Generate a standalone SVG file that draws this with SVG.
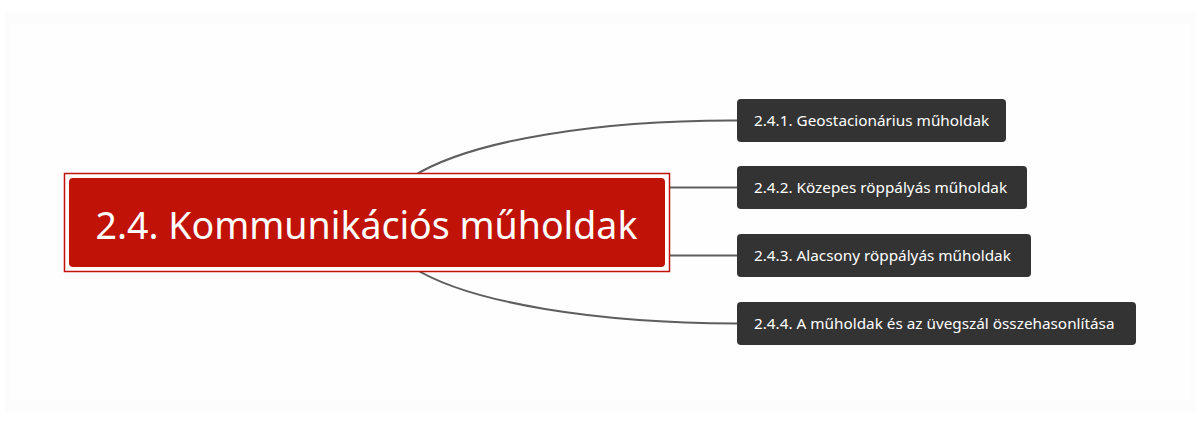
<svg xmlns="http://www.w3.org/2000/svg" width="1202" height="424" viewBox="0 0 1202 424">
<style>
.conn{fill:none;stroke:#5e5e5e;stroke-width:2}
.child rect{fill:#333333}
.child text{fill:#ffffff;font-family:"Noto Sans","Open Sans",sans-serif;font-size:15.3px}
.main text{fill:#ffffff;font-family:"Noto Sans","Open Sans",sans-serif;font-size:37.5px}
</style>
<rect x="0" y="0" width="1202" height="424" fill="#ffffff"/>
<rect x="5" y="12" width="1191" height="400" fill="#fcfcfc"/>
<rect x="11" y="24" width="1179" height="376" fill="#fefefe"/>
<g id="connectors">
<path class="conn" d="M412 177 C470 140 600 120 737 120.5"/>
<path class="conn" d="M669 187.5 L737 187.5"/>
<path class="conn" d="M669 255.5 L737 255.5"/>
<path class="conn" d="M412 267 C470 304 600 323 737 323.5"/>
</g>
<g id="main" class="main">
<rect x="64.5" y="173.5" width="605" height="98" fill="#ffffff" stroke="#c11208" stroke-width="1.5"/>
<rect x="69" y="178" width="596" height="89" rx="4" fill="#c11208"/>
<text x="366.5" y="239" text-anchor="middle">2.4. Kommunikációs műholdak</text>
</g>
<g id="n1" class="child">
<rect x="737" y="99" width="269" height="43" rx="4"/>
<text x="754" y="125.5">2.4.1. Geostacionárius műholdak</text>
</g>
<g id="n2" class="child">
<rect x="737" y="166" width="290" height="43" rx="4"/>
<text x="754" y="192.5">2.4.2. Közepes röppályás műholdak</text>
</g>
<g id="n3" class="child">
<rect x="737" y="234" width="294" height="43" rx="4"/>
<text x="754" y="260.5">2.4.3. Alacsony röppályás műholdak</text>
</g>
<g id="n4" class="child">
<rect x="737" y="302" width="399" height="43" rx="4"/>
<text x="754" y="328.5">2.4.4. A műholdak és az üvegszál összehasonlítása</text>
</g>
</svg>
